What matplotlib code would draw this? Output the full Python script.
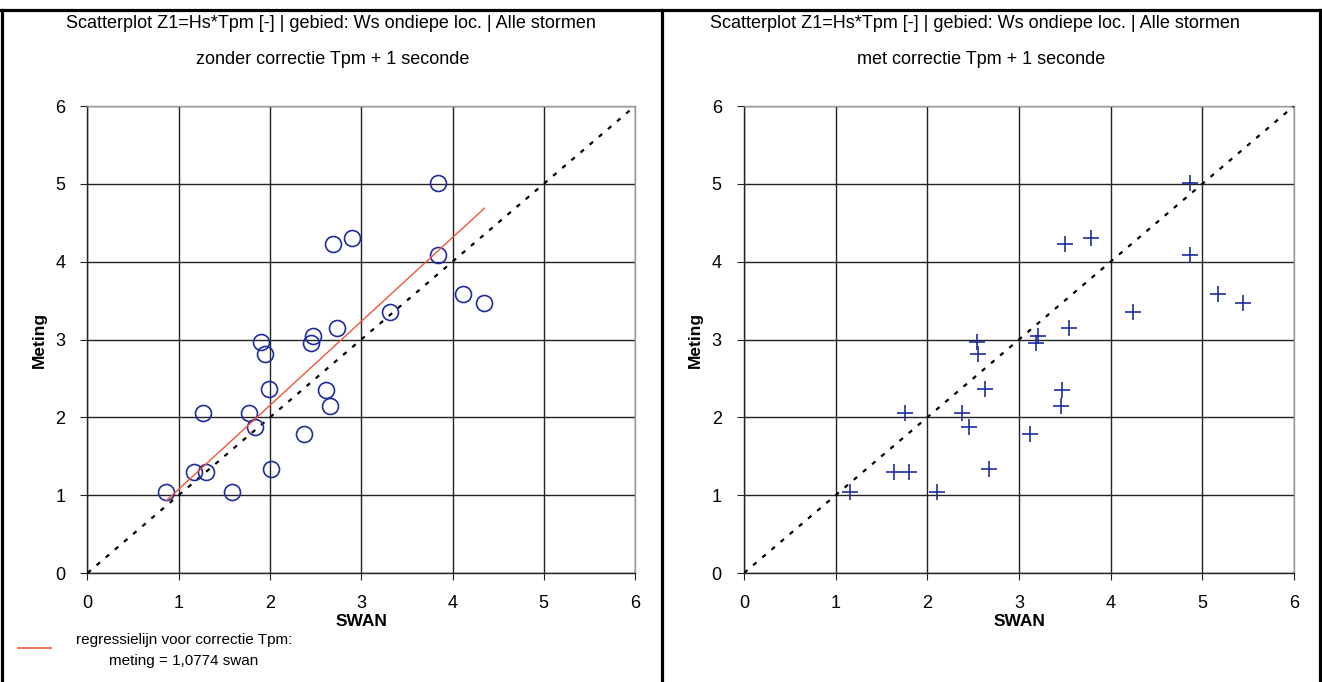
"""Scatterplots Z1=Hs*Tpm, SWAN vs meting, zonder en met correctie Tpm."""
import matplotlib
matplotlib.use('Agg')
import matplotlib.pyplot as plt
from matplotlib.lines import Line2D

# Meting (measured), same for both panels
meting = [5.01, 4.23, 4.31, 4.08, 3.58, 3.47, 3.35, 3.15, 3.05, 2.95, 2.97, 2.82,
          2.36, 2.35, 2.15, 2.06, 2.06, 1.88, 1.78, 1.34, 1.30, 1.30, 1.04, 1.04]
# SWAN without correction
swan_zonder = [3.84, 2.69, 2.90, 3.84, 4.11, 4.35, 3.31, 2.73, 2.47, 2.45, 1.90, 1.94,
               1.99, 2.61, 2.66, 1.27, 1.77, 1.84, 2.37, 2.01, 1.17, 1.30, 0.86, 1.58]
# SWAN with correction Tpm + 1 s
swan_met = [4.87, 3.50, 3.78, 4.86, 5.17, 5.44, 4.24, 3.54, 3.21, 3.19, 2.54, 2.55,
            2.63, 3.47, 3.46, 1.76, 2.38, 2.45, 3.12, 2.67, 1.64, 1.80, 1.16, 2.11]

slope = 1.0774
ticks = [0, 1, 2, 3, 4, 5, 6]
title_top = 'Scatterplot Z1=Hs*Tpm [-] | gebied: Ws ondiepe loc. | Alle stormen'
subtitles = ['zonder correctie Tpm + 1 seconde', 'met correctie Tpm + 1 seconde']

plt.rcParams['font.family'] = ['Liberation Sans', 'DejaVu Sans']

W, H = 1322, 682
fig = plt.figure(figsize=(W / 100, H / 100), dpi=100)
fig.patch.set_facecolor('white')

blue = '#1f2d9e'
red = '#f2553a'


def px_box(x0, x1, ytop, ybot):
    return [x0 / W, 1 - ybot / H, (x1 - x0) / W, (ybot - ytop) / H]


def style_axes(ax):
    ax.set_xlim(0, 6)
    ax.set_ylim(0, 6)
    ax.set_xticks(ticks)
    ax.set_yticks(ticks)
    ax.grid(True, color='#222222', linewidth=1.0)
    ax.set_axisbelow(True)
    ax.tick_params(direction='out', length=5, width=0.8, labelsize=13,
                   pad=11, color='#222222')
    ax.spines['left'].set_color('#222222')
    ax.spines['bottom'].set_color('#222222')
    ax.spines['top'].set_color('#999999')
    ax.spines['right'].set_color('#999999')
    for s in ax.spines.values():
        s.set_linewidth(1.0)
    ax.set_xlabel('SWAN', fontsize=12.5, fontweight='bold', labelpad=1)
    ax.set_ylabel('Meting', fontsize=12.5, fontweight='bold', labelpad=6)
    # 1:1 line
    ax.plot([0, 6], [0, 6], color='black', linewidth=1.6,
            linestyle=(0, (2.0, 3.4)), zorder=3)


# Left panel
ax1 = fig.add_axes(px_box(87.5, 635, 106, 573))
style_axes(ax1)
ax1.plot(swan_zonder, meting, linestyle='none', marker='o', markersize=11.5,
         markerfacecolor='none', markeredgecolor=blue, markeredgewidth=1.2, zorder=4)
xmin, xmax = min(swan_zonder), max(swan_zonder)
ax1.plot([xmin, xmax], [slope * xmin, slope * xmax], color=red,
         linewidth=1.0, zorder=5)

# Right panel
ax2 = fig.add_axes(px_box(744, 1294, 106, 573))
style_axes(ax2)
ax2.plot(swan_met, meting, linestyle='none', marker='+', markersize=12,
         markeredgecolor=blue, markeredgewidth=1.2, zorder=4)

# Titles
for xc, xs, sub in [(331, 333, subtitles[0]), (975, 981, subtitles[1])]:
    fig.text(xc / W, 1 - 23 / H, title_top, ha='center', va='center', fontsize=13)
    fig.text(xs / W, 1 - 59 / H, sub, ha='center', va='center', fontsize=13)

# Legend for regression line
fig.add_artist(Line2D([18 / W, 51 / W], [1 - 648 / H, 1 - 648 / H],
                      color=red, linewidth=1.2))
fig.text(184 / W, 1 - 640 / H, 'regressielijn voor correctie Tpm:',
         ha='center', va='center', fontsize=11)
fig.text(184 / W, 1 - 661 / H, 'meting = 1,0774 swan',
         ha='center', va='center', fontsize=11)

# Frame lines
lw = 2.3
ytop = 1 - 9.5 / H
fig.add_artist(Line2D([2 / W, 2 / W], [0, ytop], color='black', linewidth=lw))
fig.add_artist(Line2D([1320 / W, 1320 / W], [0, ytop], color='black', linewidth=lw))
fig.add_artist(Line2D([662 / W, 662 / W], [0, ytop], color='black', linewidth=lw))
fig.add_artist(Line2D([0, 1], [ytop, ytop], color='black', linewidth=lw))

fig.savefig('out.png', dpi=100, facecolor='white')
plt.close(fig)
